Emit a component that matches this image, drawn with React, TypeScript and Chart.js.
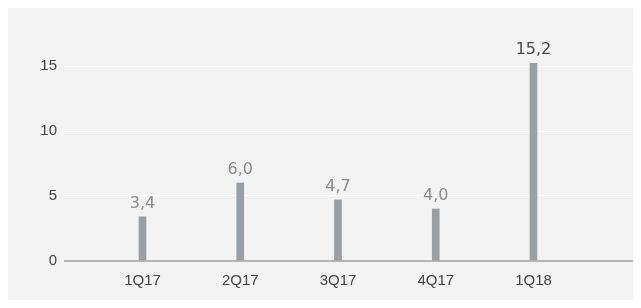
import React, { useEffect, useRef } from "react";
import { Chart, registerables } from "chart.js";

Chart.register(...registerables);

const categories = ["1Q17", "2Q17", "3Q17", "4Q17", "1Q18"];
const values = [3.4, 6.0, 4.7, 4.0, 15.2];
const yTicks = [0, 5, 10, 15];

const fmt = (v: number) => v.toFixed(1).replace(".", ",");

const valueLabels = {
  id: "valueLabels",
  afterDatasetsDraw(chart: any) {
    const ctx = chart.ctx;
    const meta = chart.getDatasetMeta(0);
    const last = values.length - 1;
    ctx.save();
    ctx.font = '16px "DejaVu Sans"';
    ctx.textAlign = "center";
    ctx.textBaseline = "alphabetic";
    meta.data.forEach((el: any, i: number) => {
      ctx.fillStyle = i === last ? "#4a4a4a" : "#8c8c8c";
      ctx.fillText(fmt(values[i]), el.x, el.y - 9);
    });
    ctx.restore();
  },
};

export default function App() {
  const ref = useRef<HTMLCanvasElement | null>(null);

  useEffect(() => {
    if (!ref.current) return;
    const chart = new Chart(ref.current, {
      type: "bar",
      data: {
        datasets: [
          {
            data: values.map((v, i) => ({ x: i, y: v })),
            backgroundColor: "#9a9fa4",
            barThickness: 7,
            borderWidth: 0,
          },
        ],
      },
      options: {
        animation: false,
        responsive: true,
        maintainAspectRatio: false,
        layout: { padding: { top: 32, bottom: 7, left: 0, right: 0 } },
        plugins: { legend: { display: false }, tooltip: { enabled: false } },
        scales: {
          x: {
            type: "linear",
            offset: false,
            min: -0.803,
            max: 5.1,
            afterFit: (scale: any) => {
              scale.paddingLeft = 0;
              scale.paddingRight = 0;
            },
            grid: { display: false, drawTicks: false },
            border: { display: false },
            ticks: {
              stepSize: 1,
              includeBounds: false,
              padding: 11,
              color: "#444444",
              font: { family: '"Liberation Sans", Arial, sans-serif', size: 15 },
              callback: (v: any) => categories[v as number] ?? "",
              maxRotation: 0,
              autoSkip: false,
            },
          },
          y: {
            min: 0,
            max: 17,
            afterFit: (scale: any) => {
              scale.width = 56;
            },
            afterBuildTicks: (scale: any) => {
              scale.ticks = yTicks.map((v) => ({ value: v }));
            },
            grid: {
              drawTicks: false,
              color: (c: any) => (c.tick && c.tick.value === 0 ? "#b4b4b4" : "#ffffff"),
              lineWidth: (c: any) => (c.tick && c.tick.value === 0 ? 2 : 1),
            },
            border: { display: false },
            ticks: {
              padding: 7,
              color: "#444444",
              font: { family: '"Liberation Sans", Arial, sans-serif', size: 15 },
              callback: (v: any) => String(v),
            },
          },
        },
      },
      plugins: [valueLabels],
    });
    return () => chart.destroy();
  }, []);

  return (
    <div
      style={{
        width: 633,
        height: 300,
        marginBottom: -8,
        background: "#f3f3f3",
        position: "relative",
      }}
    >
      <canvas ref={ref} />
    </div>
  );
}
